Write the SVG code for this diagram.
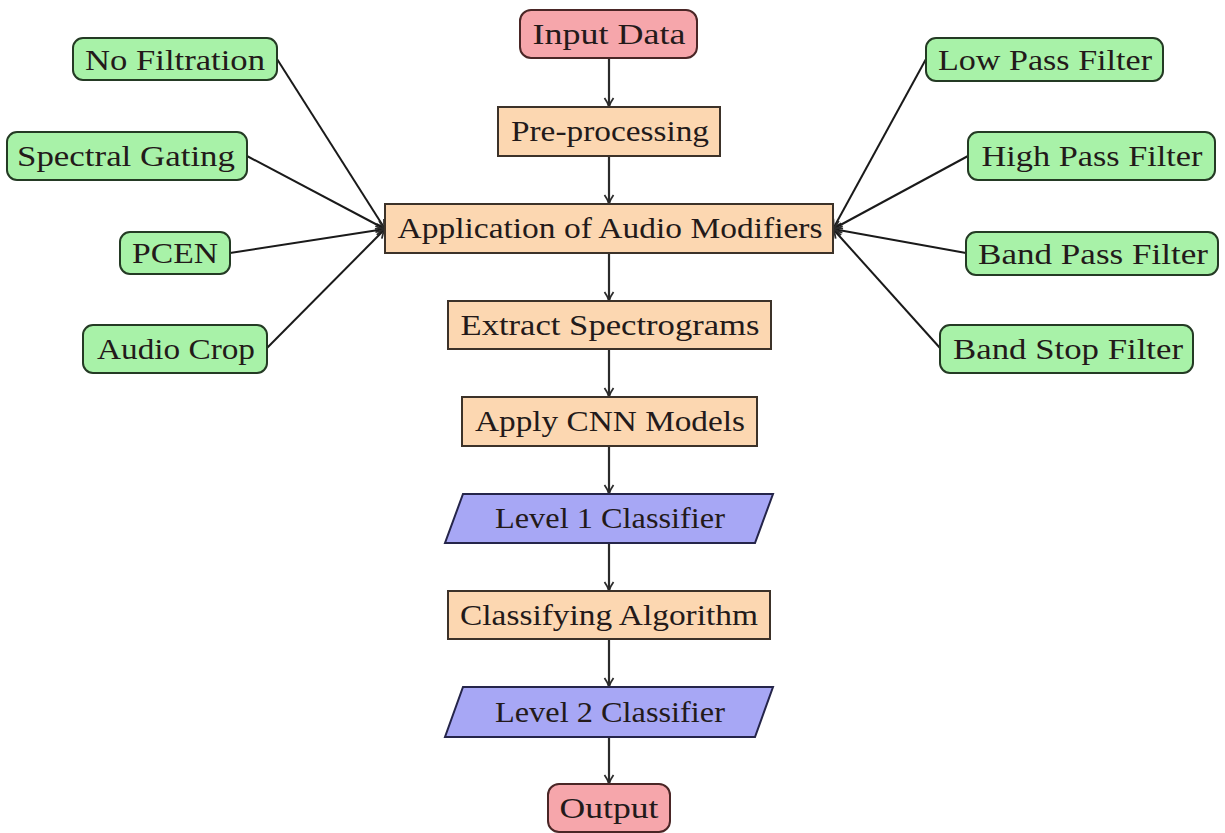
<svg xmlns="http://www.w3.org/2000/svg" width="1225" height="833" viewBox="0 0 1225 833">
<defs>
<marker id="arr" viewBox="0 0 12 12" refX="11" refY="6" markerWidth="12" markerHeight="12" markerUnits="userSpaceOnUse" orient="auto">
<path d="M2,1.5 Q6,4.5 11,6 Q6,7.5 2,10.5" fill="none" stroke="#2b2b2b" stroke-width="1.8"/>
</marker>
</defs>
<style>
.t{font-family:"Liberation Serif","DejaVu Serif",serif;font-size:29px;fill:#231a1a;text-anchor:middle}
.red{fill:#f6a6ab;stroke:#4a2626;stroke-width:2}
.org{fill:#fcd7b1;stroke:#3c3229;stroke-width:2}
.grn{fill:#a8f2a8;stroke:#243a24;stroke-width:2}
.blu{fill:#a7a7f5;stroke:#25254a;stroke-width:2}
.c{stroke:#2b2b2b;stroke-width:2.2;fill:none;marker-end:url(#arr)}
.s{stroke:#1a1a1a;stroke-width:2;fill:none;marker-end:url(#arr)}
</style>
<rect width="1225" height="833" fill="#ffffff"/>
<g id="connectors">
<line class="c" x1="609" y1="58" x2="609" y2="107"/>
<line class="c" x1="609" y1="156" x2="609" y2="204"/>
<line class="c" x1="609" y1="253" x2="609" y2="301"/>
<line class="c" x1="609" y1="349" x2="609" y2="397"/>
<line class="c" x1="609" y1="446" x2="609" y2="494"/>
<line class="c" x1="609" y1="543" x2="609" y2="591"/>
<line class="c" x1="609" y1="639" x2="609" y2="687"/>
<line class="c" x1="609" y1="737" x2="609" y2="784"/>
<line class="s" x1="277" y1="59" x2="385" y2="229"/>
<line class="s" x1="247" y1="156" x2="385" y2="229"/>
<line class="s" x1="230" y1="253" x2="385" y2="229"/>
<line class="s" x1="267" y1="348" x2="385" y2="229"/>
<line class="s" x1="926" y1="59" x2="833" y2="229"/>
<line class="s" x1="968" y1="156" x2="833" y2="229"/>
<line class="s" x1="966" y1="253" x2="833" y2="229"/>
<line class="s" x1="940" y1="348" x2="833" y2="229"/>
</g>
<g id="input-data"><rect class="red" x="520" y="10" width="177" height="48" rx="11"/><text class="t" x="609" y="44" textLength="153" lengthAdjust="spacingAndGlyphs">Input Data</text></g>
<g id="pre-processing"><rect class="org" x="498" y="107" width="222" height="49"/><text class="t" x="610" y="141" textLength="198" lengthAdjust="spacingAndGlyphs">Pre-processing</text></g>
<g id="application"><rect class="org" x="385" y="204" width="448" height="49"/><text class="t" x="610" y="238" textLength="425" lengthAdjust="spacingAndGlyphs">Application of Audio Modifiers</text></g>
<g id="extract"><rect class="org" x="448" y="301" width="323" height="48"/><text class="t" x="610" y="335" textLength="299" lengthAdjust="spacingAndGlyphs">Extract Spectrograms</text></g>
<g id="apply-cnn"><rect class="org" x="462" y="397" width="295" height="49"/><text class="t" x="610" y="431" textLength="270" lengthAdjust="spacingAndGlyphs">Apply CNN Models</text></g>
<g id="level1"><polygon class="blu" points="463,494 773,494 755,543 445,543"/><text class="t" x="610" y="528" textLength="230" lengthAdjust="spacingAndGlyphs">Level 1 Classifier</text></g>
<g id="classifying"><rect class="org" x="448" y="591" width="322" height="48"/><text class="t" x="609" y="625" textLength="298" lengthAdjust="spacingAndGlyphs">Classifying Algorithm</text></g>
<g id="level2"><polygon class="blu" points="463,687 773,687 755,737 445,737"/><text class="t" x="610" y="722" textLength="230" lengthAdjust="spacingAndGlyphs">Level 2 Classifier</text></g>
<g id="output"><rect class="red" x="548" y="784" width="122" height="48" rx="11"/><text class="t" x="609" y="818" textLength="99" lengthAdjust="spacingAndGlyphs">Output</text></g>
<g id="no-filtration"><rect class="grn" x="73" y="38" width="204" height="42" rx="10"/><text class="t" x="175" y="70" textLength="180" lengthAdjust="spacingAndGlyphs">No Filtration</text></g>
<g id="spectral-gating"><rect class="grn" x="7" y="132" width="240" height="48" rx="10"/><text class="t" x="126" y="166" textLength="218" lengthAdjust="spacingAndGlyphs">Spectral Gating</text></g>
<g id="pcen"><rect class="grn" x="120" y="232" width="110" height="42" rx="10"/><text class="t" x="175" y="263" textLength="86" lengthAdjust="spacingAndGlyphs">PCEN</text></g>
<g id="audio-crop"><rect class="grn" x="83" y="325" width="184" height="48" rx="10"/><text class="t" x="176" y="359" textLength="158" lengthAdjust="spacingAndGlyphs">Audio Crop</text></g>
<g id="low-pass"><rect class="grn" x="926" y="38" width="237" height="43" rx="10"/><text class="t" x="1045" y="70" textLength="214" lengthAdjust="spacingAndGlyphs">Low Pass Filter</text></g>
<g id="high-pass"><rect class="grn" x="968" y="132" width="247" height="48" rx="10"/><text class="t" x="1092" y="166" textLength="221" lengthAdjust="spacingAndGlyphs">High Pass Filter</text></g>
<g id="band-pass"><rect class="grn" x="966" y="232" width="252" height="43" rx="10"/><text class="t" x="1093" y="264" textLength="230" lengthAdjust="spacingAndGlyphs">Band Pass Filter</text></g>
<g id="band-stop"><rect class="grn" x="940" y="325" width="253" height="48" rx="10"/><text class="t" x="1068" y="359" textLength="230" lengthAdjust="spacingAndGlyphs">Band Stop Filter</text></g>
</svg>
